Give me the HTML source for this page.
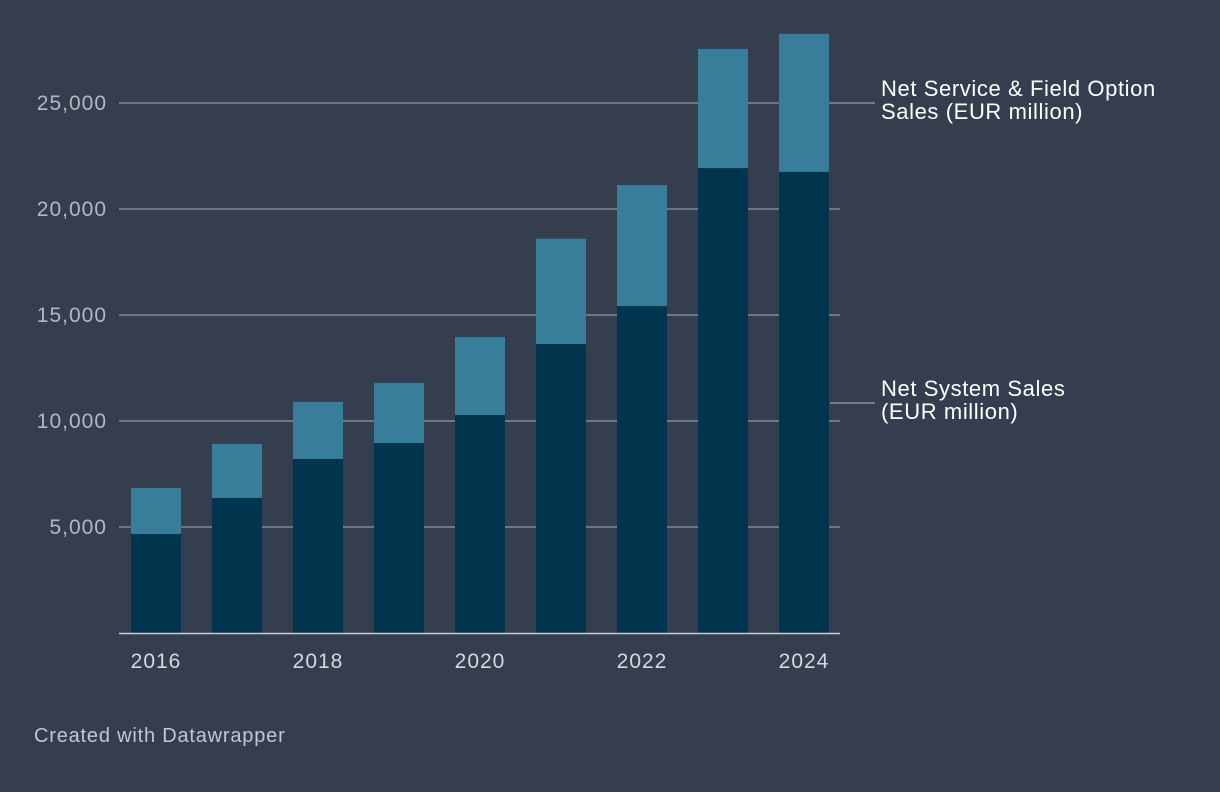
<!DOCTYPE html>
<html><head><meta charset="utf-8"><style>
html,body{margin:0;padding:0;background:#343e4f;}
svg{display:block;font-family:"Liberation Sans",Arial,sans-serif;}
</style></head><body>
<svg id="chart" width="1220" height="792">
<g id="grid"></g>
<g id="bars"></g>
<g id="xaxis"></g>
<line x1="830" x2="875" y1="103" y2="103" stroke="#b4b8bf" stroke-width="1"/>
<line x1="830" x2="875" y1="403" y2="403" stroke="#b4b8bf" stroke-width="1"/>
<text x="881" y="96" fill="#ffffff" font-size="22" letter-spacing="0.6"><tspan x="881">Net Service &amp; Field Option</tspan><tspan x="881" dy="23">Sales (EUR million)</tspan></text>
<text x="881" y="396" fill="#ffffff" font-size="22" letter-spacing="0.6"><tspan x="881">Net System Sales</tspan><tspan x="881" dy="23">(EUR million)</tspan></text>
<text x="34" y="742" fill="#c3c7cc" font-size="20" letter-spacing="0.8">Created with Datawrapper</text>
</svg>
<script>
const years=["2016","2017","2018","2019","2020","2021","2022","2023","2024"];
const systemSales=[4670,6370,8210,8960,10280,13630,15420,21930,21750];
const serviceSales=[2170,2550,2690,2840,3680,4970,5710,5620,6510];
const yTicks=[5000,10000,15000,20000,25000];
const yTickLabels=["5,000","10,000","15,000","20,000","25,000"];
const xLabels=["2016","","2018","","2020","","2022","","2024"];
const NS="http://www.w3.org/2000/svg";
const y0=633,pxPer=530/25000;
function y(v){return y0-v*pxPer;}
function x(i){return 131+i*81;}
const bw=50;
function mk(t,a,p){const e=document.createElementNS(NS,t);for(const k in a)e.setAttribute(k,a[k]);p.appendChild(e);return e;}
const grid=document.getElementById('grid');
yTicks.forEach((t,i)=>{
 const l=mk('line',{x1:119,x2:840,y1:y(t),y2:y(t),stroke:'#a9adb3','stroke-width':1},grid);
 
 
 const tx=mk('text',{x:107,y:y(t)+7,'text-anchor':'end',fill:'#b4b8bf','font-size':21,'letter-spacing':1},grid);
 tx.textContent=yTickLabels[i];
 
 
});
const bars=document.getElementById('bars');
years.forEach((yr,i)=>{
 const s=systemSales[i],v=serviceSales[i];
 const r1=mk('rect',{x:x(i),y:y(s),width:bw,height:y0-y(s),fill:'#01344d'},bars);
 
 
 const r2=mk('rect',{x:x(i),y:y(s+v),width:bw,height:y(s)-y(s+v),fill:'#387d99'},bars);
 
 
});
const xa=document.getElementById('xaxis');
const base=mk('line',{x1:119,x2:840,y1:y0+0.5,y2:y0+0.5,stroke:'#c8ccd1','stroke-width':1.5},xa);


xLabels.forEach((lb,i)=>{
 if(!lb)return;
 const t=mk('text',{x:x(i)+bw/2,y:668,'text-anchor':'middle',fill:'#d5d8dc','font-size':21,'letter-spacing':1},xa);
 t.textContent=lb;
 
 
});
</script>
</body></html>
